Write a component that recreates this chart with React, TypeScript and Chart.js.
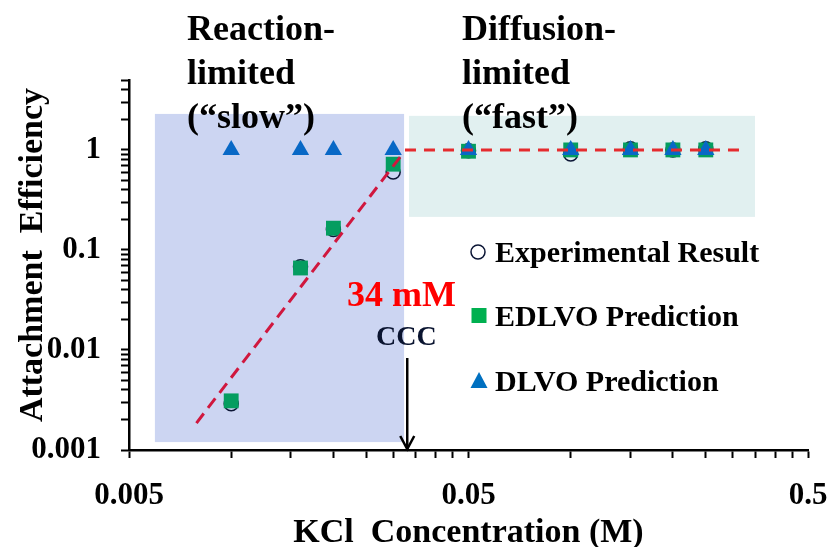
import { useEffect, useRef } from 'react';
import { Chart, registerables } from 'chart.js';

Chart.register(...registerables);

// ---- data ----
const KCL_M = [0.01, 0.016, 0.02, 0.03, 0.05, 0.1, 0.15, 0.2, 0.25];
const EXPERIMENTAL = [0.0029, 0.068, 0.16, 0.6, 0.98, 0.91, 1.03, 1.0, 1.03];
const EDLVO = [0.0031, 0.066, 0.165, 0.72, 0.97, 1.0, 1.0, 1.0, 1.0];
const DLVO = [1, 1, 1, 1, 1, 1, 1, 1, 1];

const FIT_SLOW_X = [0.0079, 0.0321];
const FIT_SLOW_Y = [0.00186, 0.93];
const FIT_FAST_X = [0.0325, 0.32];
const FIT_FAST_Y = [1, 1];

const SLOW_ZONE_X = [0.00596, 0.0323];
const SLOW_ZONE_Y = [0.0012, 2.29];
const FAST_ZONE_X = [0.0334, 0.349];
const FAST_ZONE_Y = [0.214, 2.19];

const CCC_M = 0.033;

const X_TICKS = [0.005, 0.01, 0.015, 0.02, 0.025, 0.03, 0.035, 0.04, 0.045, 0.05, 0.1, 0.15, 0.2, 0.25, 0.3, 0.35, 0.4, 0.45, 0.5];
const X_LABEL_VALUES = [0.005, 0.05, 0.5];
const X_LABELS = ['0.005', '0.05', '0.5'];
const Y_TICKS = [
  0.001, 0.002, 0.003, 0.004, 0.005, 0.006, 0.007, 0.008, 0.009,
  0.01, 0.02, 0.03, 0.04, 0.05, 0.06, 0.07, 0.08, 0.09,
  0.1, 0.2, 0.3, 0.4, 0.5, 0.6, 0.7, 0.8, 0.9,
  1, 2, 3, 4, 5,
];
const Y_LABEL_VALUES = [0.001, 0.01, 0.1, 1];
const Y_LABELS = ['0.001', '0.01', '0.1', '1'];

const LEGEND_LABELS = ['Experimental Result', 'EDLVO Prediction', 'DLVO Prediction'];

const FONT = '"Liberation Serif", "Times New Roman", serif';

function pts(xs: number[], ys: number[]) {
  return xs.map((x, i) => ({ x, y: ys[i] }));
}

function text(ctx: CanvasRenderingContext2D, s: string, x: number, y: number, size: number, color = '#000', align: CanvasTextAlign = 'left') {
  ctx.font = `bold ${size}px ${FONT}`;
  ctx.fillStyle = color;
  ctx.textAlign = align;
  ctx.textBaseline = 'alphabetic';
  ctx.fillText(s, x, y);
}

const overlayPlugin = {
  id: 'overlay',
  beforeDatasetsDraw(chart: any) {
    const { ctx, scales } = chart;
    const xs = scales.x;
    const ys = scales.y;
    const zone = (zx: number[], zy: number[], color: string) => {
      const x0 = xs.getPixelForValue(zx[0]);
      const x1 = xs.getPixelForValue(zx[1]);
      const y0 = ys.getPixelForValue(zy[1]);
      const y1 = ys.getPixelForValue(zy[0]);
      ctx.save();
      ctx.fillStyle = color;
      ctx.fillRect(x0, y0, x1 - x0, y1 - y0);
      ctx.restore();
    };
    zone(SLOW_ZONE_X, SLOW_ZONE_Y, '#CCD5F2');
    zone(FAST_ZONE_X, FAST_ZONE_Y, '#E1F0F0');
  },
  afterDraw(chart: any) {
    const { ctx, scales } = chart;
    const xs = scales.x;
    const ys = scales.y;
    ctx.save();

    // region headings
    const hx1 = 187;
    const hx2 = 462;
    text(ctx, 'Reaction-', hx1, 40, 36);
    text(ctx, 'limited', hx1, 84, 36);
    text(ctx, '(\u201Cslow\u201D)', hx1, 128, 36);
    text(ctx, 'Diffusion-', hx2, 40, 36);
    text(ctx, 'limited', hx2, 84, 36);
    text(ctx, '(\u201Cfast\u201D)', hx2, 128, 36);

    // CCC annotation
    const ax = xs.getPixelForValue(CCC_M);
    text(ctx, '34 mM', 347, 306, 36, '#FF0000');
    text(ctx, 'CCC', 376, 345, 28, '#0A1430');
    const tipY = ys.getPixelForValue(0.001) - 1;
    ctx.strokeStyle = '#000';
    ctx.lineWidth = 2.5;
    ctx.beginPath();
    ctx.moveTo(ax, 358);
    ctx.lineTo(ax, tipY);
    ctx.stroke();
    ctx.beginPath();
    ctx.moveTo(ax - 7, tipY - 13);
    ctx.lineTo(ax, tipY);
    ctx.lineTo(ax + 7, tipY - 13);
    ctx.stroke();

    // legend
    const mx = 479;
    const tx = 495;
    ctx.beginPath();
    ctx.arc(mx - 1, 252, 7, 0, Math.PI * 2);
    ctx.lineWidth = 1.5;
    ctx.strokeStyle = '#0B1535';
    ctx.stroke();
    text(ctx, LEGEND_LABELS[0], tx, 262, 30);
    ctx.fillStyle = '#00B050';
    ctx.fillRect(mx - 7.5, 308, 15, 15);
    text(ctx, LEGEND_LABELS[1], tx, 326, 30);
    ctx.fillStyle = '#0070C0';
    ctx.beginPath();
    ctx.moveTo(mx, 372);
    ctx.lineTo(mx + 8.5, 388);
    ctx.lineTo(mx - 8.5, 388);
    ctx.closePath();
    ctx.fill();
    text(ctx, LEGEND_LABELS[2], tx, 391, 30);

    // axis titles
    text(ctx, 'KCl  Concentration (M)', (chart.chartArea.left + chart.chartArea.right) / 2, 542, 34, '#000', 'center');
    ctx.save();
    ctx.translate(42, 255);
    ctx.rotate(-Math.PI / 2);
    text(ctx, 'Attachment  Efficiency', 0, 0, 34, '#000', 'center');
    ctx.restore();

    ctx.restore();
  },
};

export default function App() {
  const ref = useRef<HTMLCanvasElement | null>(null);

  useEffect(() => {
    if (!ref.current) return;
    const chart = new Chart(ref.current, {
      type: 'scatter',
      data: {
        datasets: [
          {
            label: 'Fit slow',
            data: pts(FIT_SLOW_X, FIT_SLOW_Y),
            showLine: true,
            borderColor: '#D0173E',
            borderWidth: 3,
            borderDash: [12, 7],
            pointRadius: 0,
            order: 0,
          },
          {
            label: 'Fit fast',
            data: pts(FIT_FAST_X, FIT_FAST_Y),
            showLine: true,
            borderColor: '#E52B2E',
            borderWidth: 3,
            borderDash: [11, 8],
            pointRadius: 0,
            order: 0,
          },
          {
            label: LEGEND_LABELS[2],
            data: pts(KCL_M, DLVO),
            pointStyle: 'triangle',
            pointRadius: 10,
            backgroundColor: '#0868C6',
            borderColor: '#0868C6',
            borderWidth: 0,
            order: 1,
          },
          {
            label: LEGEND_LABELS[1],
            data: pts(KCL_M, EDLVO),
            pointStyle: 'rect',
            pointRadius: 10.5,
            backgroundColor: '#049D60',
            borderColor: '#049D60',
            borderWidth: 0,
            order: 2,
          },
          {
            label: LEGEND_LABELS[0],
            data: pts(KCL_M, EXPERIMENTAL),
            pointStyle: 'circle',
            pointRadius: 7,
            backgroundColor: 'rgba(0,0,0,0)',
            borderColor: '#0B1535',
            borderWidth: 1.5,
            order: 3,
          },
        ],
      },
      options: {
        responsive: false,
        animation: false,
        events: [],
        layout: { padding: { top: 80, right: 20, left: 0, bottom: 0 } },
        plugins: {
          legend: { display: false },
          tooltip: { enabled: false },
          title: { display: false },
        },
        scales: {
          x: {
            type: 'logarithmic',
            min: 0.005,
            max: 0.5,
            afterBuildTicks: (scale: any) => {
              scale.ticks = X_TICKS.map((v) => ({ value: v }));
            },
            afterFit: (scale: any) => {
              scale.height = 97;
              scale.paddingLeft = 0;
              scale.paddingRight = 0;
            },
            ticks: {
              autoSkip: false,
              maxRotation: 0,
              minRotation: 0,
              padding: 19,
              color: '#000',
              font: { family: FONT, size: 31, weight: 'bold' },
              callback: (value: any) => {
                const i = X_LABEL_VALUES.indexOf(Number(value));
                return i >= 0 ? X_LABELS[i] : '';
              },
            },
            grid: {
              display: true,
              drawOnChartArea: false,
              drawTicks: true,
              tickLength: 8,
              tickWidth: 2,
              tickColor: '#000',
            },
            border: { display: true, color: '#000', width: 2.5 },
          },
          y: {
            type: 'logarithmic',
            min: 0.001,
            max: 5,
            afterBuildTicks: (scale: any) => {
              scale.ticks = Y_TICKS.map((v) => ({ value: v }));
            },
            afterFit: (scale: any) => {
              scale.width = 129;
              scale.paddingTop = 0;
              scale.paddingBottom = 0;
            },
            ticks: {
              autoSkip: false,
              padding: 20,
              color: '#000',
              font: { family: FONT, size: 31, weight: 'bold' },
              callback: (value: any) => {
                const i = Y_LABEL_VALUES.indexOf(Number(value));
                return i >= 0 ? Y_LABELS[i] : '';
              },
            },
            grid: {
              display: true,
              drawOnChartArea: false,
              drawTicks: true,
              tickLength: 8,
              tickWidth: 2,
              tickColor: '#000',
            },
            border: { display: true, color: '#000', width: 2.5 },
          },
        },
      } as any,
      plugins: [overlayPlugin],
    });
    return () => chart.destroy();
  }, []);

  return (
    <div style={{ position: 'fixed', left: 0, top: 0, width: 828, height: 547, background: '#fff' }}>
      <canvas ref={ref} width={828} height={547} style={{ display: 'block', width: 828, height: 547 }} />
    </div>
  );
}
